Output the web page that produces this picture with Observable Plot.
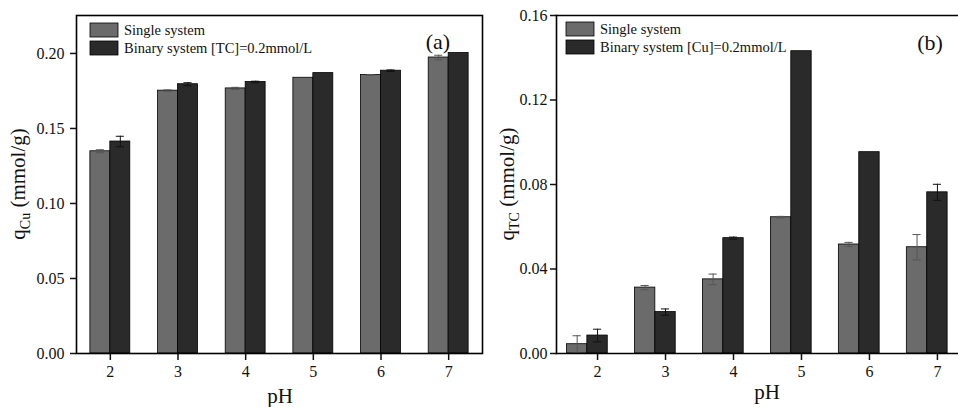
<!DOCTYPE html>
<html>
<head>
<meta charset="utf-8">
<script src="https://cdn.jsdelivr.net/npm/d3@7"></script>
<script src="https://cdn.jsdelivr.net/npm/@observablehq/plot@0.6"></script>
<style>
  html, body { margin: 0; padding: 0; background: #fff; overflow: hidden; }
  #wrap { display: flex; width: 958px; height: 407px; }
  svg, svg text { font-family: "Liberation Serif", "DejaVu Serif", serif !important; }
</style>
</head>
<body>
<div id="wrap"></div>
<script>
// ---- data ----
const pH = [2, 3, 4, 5, 6, 7];
const cuSingle    = [0.1348, 0.1752, 0.1767, 0.1838, 0.1856, 0.1973];
const cuSingleErr = [0.0010, 0.0005, 0.0007, 0.0000, 0.0003, 0.0015];
const cuBinary    = [0.1413, 0.1795, 0.1810, 0.1869, 0.1885, 0.2003];
const cuBinaryErr = [0.0035, 0.0010, 0.0005, 0.0000, 0.0005, 0.0000];
const tcSingle    = [0.0044, 0.0312, 0.0351, 0.0645, 0.0516, 0.0503];
const tcSingleErr = [0.0040, 0.0010, 0.0025, 0.0004, 0.0010, 0.0060];
const tcBinary    = [0.0085, 0.0196, 0.0546, 0.1431, 0.0953, 0.0763];
const tcBinaryErr = [0.0030, 0.0015, 0.0005, 0.0000, 0.0000, 0.0038];
const seriesNames = ["Single system", "Binary system"];
const legendA = ["Single system", "Binary system [TC]=0.2mmol/L"];
const legendB = ["Single system", "Binary system [Cu]=0.2mmol/L"];
const yTicksA = [0, 0.05, 0.10, 0.15, 0.20];
const yTicksB = [0, 0.04, 0.08, 0.12, 0.16];

const colors = {"Single system": "#6b6b6b", "Binary system": "#2a2a2a"};
const errColors = {"Single system": "#555", "Binary system": "#111"};

function rows(single, singleErr, binary, binaryErr, offS, offB, w) {
  const out = [];
  pH.forEach((p, i) => {
    out.push({pH: p, s: seriesNames[0], v: single[i], e: singleErr[i], a: p + offS, b: p + offS + w});
    out.push({pH: p, s: seriesNames[1], v: binary[i], e: binaryErr[i], a: p + offB, b: p + offB + w});
  });
  return out;
}

function panel({data, width, marginLeft, marginRight, xDomain, yDomain, yTicks, frameAnchors, tickSizeY, tickPadY}) {
  const capHalf = 0.06;
  const withErr = data.filter(d => d.e > 0);
  const mid = d => (d.a + d.b) / 2;
  const marks = [
    Plot.rectY(data, {x1: "a", x2: "b", y1: 0, y2: "v", fill: d => colors[d.s], stroke: "#000", strokeWidth: 0.8}),
    Plot.ruleX(withErr, {x: mid, y1: d => d.v - d.e, y2: d => d.v + d.e, stroke: d => errColors[d.s], strokeWidth: 1}),
    Plot.ruleY(withErr, {y: d => d.v + d.e, x1: d => mid(d) - capHalf, x2: d => mid(d) + capHalf, stroke: d => errColors[d.s], strokeWidth: 1}),
    Plot.ruleY(withErr, {y: d => d.v - d.e, x1: d => mid(d) - capHalf, x2: d => mid(d) + capHalf, stroke: d => errColors[d.s], strokeWidth: 1}),
    Plot.axisX({ticks: pH, tickFormat: d => d, tickSize: 7, tickPadding: 5, fontSize: 16, label: null, strokeWidth: 1.5, color: "#111"}),
    Plot.axisY({ticks: yTicks, tickFormat: d3.format(".2f"), tickSize: tickSizeY, tickPadding: tickPadY, fontSize: 16, label: null, strokeWidth: 1.5, color: "#111"})
  ];
  frameAnchors.forEach(an => marks.push(an ? Plot.frame({anchor: an, stroke: "#000", strokeWidth: 1.6}) : Plot.frame({stroke: "#000", strokeWidth: 1.6})));
  return Plot.plot({
    width, height: 407,
    marginLeft, marginRight, marginTop: 15, marginBottom: 54,
    style: {fontFamily: "'Liberation Serif', serif", fontSize: "16px", background: "#fff", color: "#111", overflow: "visible"},
    x: {type: "linear", domain: xDomain},
    y: {domain: yDomain},
    marks
  });
}

const wrap = document.getElementById("wrap");

// Panel (a)
const dataA = rows(cuSingle, cuSingleErr, cuBinary, cuBinaryErr, -0.295, 0, 0.295);
const svgA = panel({data: dataA, width: 490, marginLeft: 76, marginRight: 8, xDomain: [1.5, 7.5], yDomain: [0, 0.2253], yTicks: yTicksA, frameAnchors: [null], tickSizeY: 6, tickPadY: 6});
wrap.appendChild(svgA);

// Panel (b)
const dataB = rows(tcSingle, tcSingleErr, tcBinary, tcBinaryErr, -0.45, -0.15, 0.3);
const svgB = panel({data: dataB, width: 468, marginLeft: 66, marginRight: 0, xDomain: [1.396, 7.31], yDomain: [0, 0.16], yTicks: yTicksB, frameAnchors: ["top", "left", "bottom"], tickSizeY: 6, tickPadY: 3});
wrap.appendChild(svgB);

function decorate(svgNode, opts) {
  const svg = d3.select(svgNode);
  const g = svg.append("g").attr("fill", "#111").attr("text-anchor", "start");
  // x title
  g.append("text").attr("x", opts.pHx).attr("y", opts.pHy).attr("text-anchor", "middle").attr("font-size", 21).text("pH");
  // y title with subscript
  const t = g.append("text").attr("transform", `translate(${opts.ylx},${opts.yly}) rotate(-90)`).attr("text-anchor", "middle").attr("font-size", 21);
  t.append("tspan").text("q");
  t.append("tspan").attr("font-size", 14).attr("dy", 5).text(opts.sub);
  t.append("tspan").attr("dy", -5).text(" (mmol/g)");
  // panel letter
  g.append("text").attr("x", opts.lx).attr("y", opts.ly).attr("text-anchor", "middle").attr("font-size", 22).text(opts.letter);
  // legend
  opts.legend.forEach((name, i) => {
    g.append("rect").attr("x", opts.legx).attr("y", opts.legy + i * 18).attr("width", 28).attr("height", 14)
      .attr("fill", colors[seriesNames[i]]).attr("stroke", "#000").attr("stroke-width", 0.8);
    g.append("text").attr("x", opts.legx + 34).attr("y", opts.legy + i * 18 + 12).attr("text-anchor", "start").attr("font-size", 14.5).text(name);
  });
}

decorate(svgA, {pHx: 280, pHy: 403, ylx: 25, yly: 184, sub: "Cu", lx: 438, ly: 49, letter: "(a)", legx: 90, legy: 23, legend: legendA});
decorate(svgB, {pHx: 767 - 490, pHy: 399, ylx: 507 - 490 + 7, yly: 184, sub: "TC", lx: 930 - 490, ly: 50, letter: "(b)", legx: 566 - 490, legy: 22, legend: legendB});
</script>
</body>
</html>
